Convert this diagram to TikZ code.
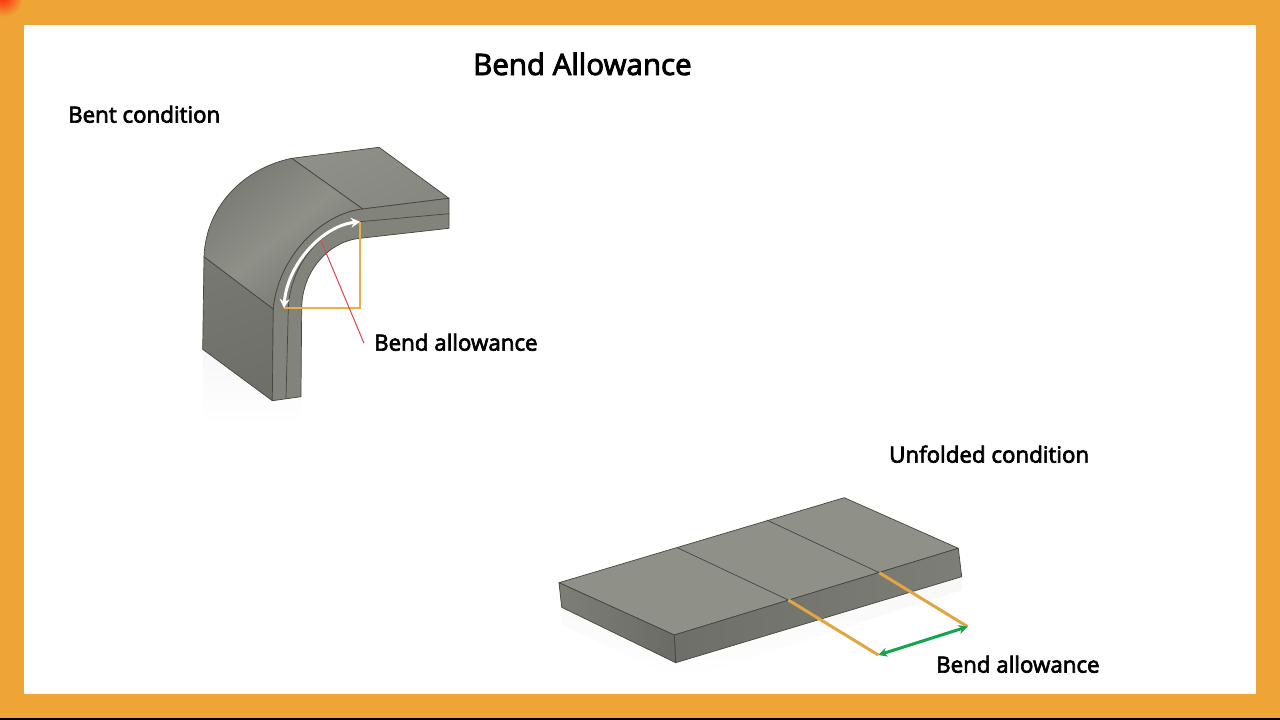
\documentclass[tikz,border=0pt]{standalone}
\usepackage{fontspec}
\setmainfont[FakeBold=3]{Open Sans}
\usetikzlibrary{arrows.meta}
\definecolor{frame}{HTML}{EFA535}
\definecolor{edgeline}{HTML}{45463F}
\definecolor{topface}{HTML}{8F9088}
\definecolor{sideface}{HTML}{7D7E76}
\definecolor{darkface}{HTML}{74756D}
\definecolor{squarec}{HTML}{EDAF45}
\definecolor{redline}{HTML}{DD4455}
\definecolor{greenarrow}{HTML}{12A64F}
\tikzset{
  x=1pt,y=-1pt,
  edgepath/.style={draw=edgeline,line width=0.7pt,line join=round},
  label/.style={inner sep=0pt,text=black,font=\fontsize{22.3}{26}\selectfont,anchor=base west},
  guide/.style={draw=#1,line width=1.3pt},
  bandline/.style={draw=squarec!95!black,line width=3pt},
  whitearrow/.style={draw=white,line width=3pt,{Stealth[length=9pt,width=10pt]}-{Stealth[length=9pt,width=10pt]}},
  greendbl/.style={draw=greenarrow,line width=3pt,{Stealth[length=9pt,width=9pt]}-{Stealth[length=9pt,width=9pt]}}
}
\begin{document}
\begin{tikzpicture}
\useasboundingbox (0,0) rectangle (1280,720);
\fill[frame] (0,0) rectangle (1280,720);
\fill[black] (0,718) rectangle (1280,720);
\begin{scope}
\clip (0,0) rectangle (30,25);
\shade[inner color=red!75!frame,outer color=frame] (3,-3) circle (20);
\end{scope}
\fill[white] (24,25) rectangle (1256,694);

% faint floor reflections
\shade[top color=black!3,bottom color=white] (203,350) -- (272,401) -- (301,397) -- (301,425) -- (203,425) -- cycle;
\shade[top color=black!3,bottom color=white] (562,607) -- (676,663) -- (962,577) -- (962,590) -- (680,680) -- (562,625) -- cycle;

% --- bent part
\coordinate (a) at (291.7,158.3);
\coordinate (b) at (379,147.3);
\coordinate (c) at (449,198.3);
\coordinate (d) at (362.7,209);
\coordinate (e) at (204,256.7);
\coordinate (f) at (273.3,309);
\coordinate (g) at (272.3,400.7);
\coordinate (h) at (202.7,349.3);
\coordinate (i) at (301,396.7);
\coordinate (j) at (301.7,308.3);
\coordinate (k) at (360,238.3);
\coordinate (l) at (449,228.3);
\coordinate (m) at (449,213.7);
\coordinate (n) at (360,221.7);
\coordinate (o) at (288.3,308.3);
\coordinate (p) at (286,398.3);
\coordinate (q) at (284,308);
\coordinate (r) at (360,308);
\coordinate (s) at (320.7,240);
\coordinate (t) at (364,343.3);

\shade[top color=sideface!95!black,bottom color=sideface!88!black,shading angle=20,edgepath]
  (e) -- (f) -- (g) -- (h) -- cycle;
\shade[left color=topface,right color=topface!94!black,shading angle=25,edgepath]
  (a) -- (b) -- (c) -- (d) -- cycle;
\shade[left color=sideface!96!black,right color=sideface!92!black,middle color=topface,shading angle=40,edgepath]
  (a) .. controls (245,168) and (206,205) .. (e) -- (f)
  .. controls (278,258) and (320,214) .. (d) -- cycle;
\filldraw[fill=sideface!96!white,edgepath]
  (d) -- (c) -- (l) -- (k) .. controls (330,241) and (302,270) .. (j) -- (i) -- (g) -- (f)
  .. controls (278,258) and (320,214) .. (d) -- cycle;
\draw[edgepath] (m) -- (n) .. controls (322,226) and (290,265) .. (o) -- (p);

\draw[guide=squarec] (n) -- (r) -- (q);
\draw[guide=redline,line width=1pt] (s) -- (t);
\draw[whitearrow] (q) .. controls (287,265) and (322,226) .. (n);

% --- unfolded part
\coordinate (A) at (559,582.7);
\coordinate (B) at (844.3,497.7);
\coordinate (C) at (958.3,548.3);
\coordinate (D) at (674.3,635);
\coordinate (E) at (961.7,576.7);
\coordinate (F) at (675.7,662.7);
\coordinate (G) at (561.7,607.3);
\coordinate (H) at (677.3,547.7);
\coordinate (I) at (788.3,600);
\coordinate (J) at (766.7,520);
\coordinate (K) at (879.3,572.7);
\coordinate (L) at (878.3,655);
\coordinate (M) at (967.7,626.7);

\filldraw[fill=topface,edgepath] (A) -- (B) -- (C) -- (D) -- cycle;
\shade[left color=sideface!88!black,right color=sideface,edgepath] (D) -- (C) -- (E) -- (F) -- cycle;
\shade[left color=sideface,right color=sideface!85!black,edgepath] (A) -- (D) -- (F) -- (G) -- cycle;
\draw[edgepath] (H) -- (I);
\draw[edgepath] (J) -- (K);
\draw[bandline] (I) -- (L);
\draw[bandline] (K) -- (M);
\draw[greendbl] (L) -- (M);

% --- text
\node[label,font=\fontsize{29.5}{34}\selectfont] (title) at (473,75) {Bend Allowance};
\node[label] (bent) at (68,122.6) {Bent condition};
\node[label] (bendone) at (374,350.6) {Bend allowance};
\node[label] (unfolded) at (889,462.6) {Unfolded condition};
\node[label] (bendtwo) at (936,672.6) {Bend allowance};
\end{tikzpicture}
\end{document}
